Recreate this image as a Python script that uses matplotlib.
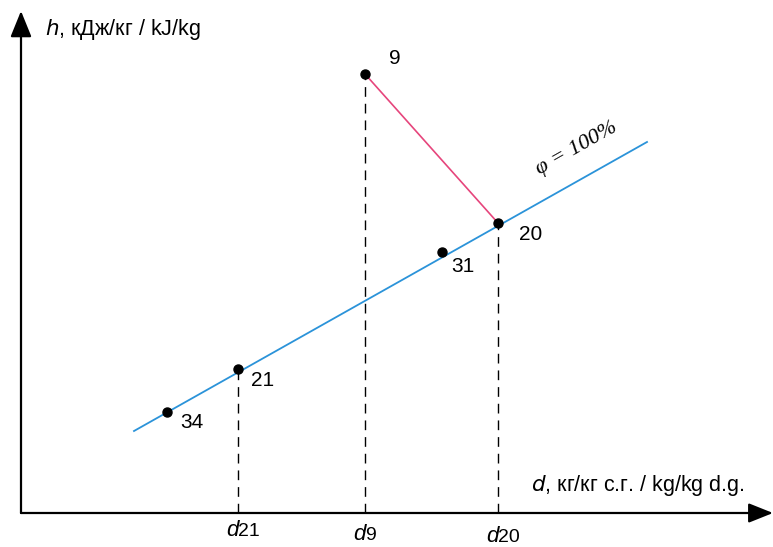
import numpy as np
import matplotlib.pyplot as plt

plt.rcParams['font.family'] = ['Liberation Sans', 'DejaVu Sans']

# state points on the h-d diagram (arbitrary units, origin at axes corner)
point_names = ['9', '20', '31', '21', '34']
point_d = [344, 477, 421, 217, 146]
point_h = [439, 290, 261, 144, 101]

# saturation line phi = 100 %
sat_d = [113, 626]
sat_h = [82, 371]

# process 9 -> 20
proc_d = [344, 477]
proc_h = [439, 290]

# points projected down to the d axis
tick_pts = ['21', '9', '20']
tick_d = [217, 344, 477]
tick_h = [144, 439, 290]

W, H = 773, 547
fig = plt.figure(figsize=(W / 100, H / 100), dpi=100)
x0, y0 = 21, 513
ax = fig.add_axes([x0 / W, (H - y0) / H, (W - x0) / W, (y0) / H])
ax.set_xlim(0, W - x0)
ax.set_ylim(0, y0)
ax.axis('off')

# axes with arrow heads
ax.annotate('', xy=(W - x0, 0), xytext=(0, 0),
            arrowprops=dict(arrowstyle='-|>,head_length=1.5,head_width=0.6',
                            color='black', lw=1.6, shrinkA=0, shrinkB=0),
            annotation_clip=False)
ax.annotate('', xy=(0, y0 - 11), xytext=(0, 0),
            arrowprops=dict(arrowstyle='-|>,head_length=1.6,head_width=0.65',
                            color='black', lw=1.6, shrinkA=0, shrinkB=0),
            annotation_clip=False)

# dashed projections
for d, h in zip(tick_d, tick_h):
    ax.plot([d, d], [0, h], color='black', lw=1.0, ls=(0, (7, 5)))

ax.plot(sat_d, sat_h, color='#2b93d9', lw=1.3)
ax.plot(proc_d, proc_h, color='#e6457c', lw=1.2)
ax.plot(point_d, point_h, 'o', color='black', ms=6.5, zorder=5)

offsets = {'9': (30, 16), '20': (33, -12), '31': (21, -14),
           '21': (25, -11), '34': (25, -10)}
for name, d, h in zip(point_names, point_d, point_h):
    dx, dy = offsets[name]
    ax.text(d + dx, h + dy, name, fontsize=15, ha='center', va='center')

# tick labels d21, d9, d20
tick_dy = {'21': -18, '9': -21, '20': -23}
for name, d in zip(tick_pts, tick_d):
    ax.text(d + 1, tick_dy[name], 'd', fontsize=16, style='italic',
            ha='right', va='center')
    ax.text(d, tick_dy[name] - 1, name, fontsize=14, ha='left', va='center')

# axis titles
ax.text(24, y0 - 30, r'$h$, кДж/кг / kJ/kg', fontsize=15.5, ha='left', va='center')
ax.text(W - x0 - 28, 28, r'$d$, кг/кг с.г. / kg/kg d.g.', fontsize=15.5,
        ha='right', va='center')

ang = np.degrees(np.arctan2(sat_h[1] - sat_h[0], sat_d[1] - sat_d[0]))
ax.text(556, 364, 'φ = 100%', fontsize=16, rotation=ang, ha='center',
        va='center', fontfamily='Liberation Serif', style='italic')

fig.savefig('out.png', dpi=100)
